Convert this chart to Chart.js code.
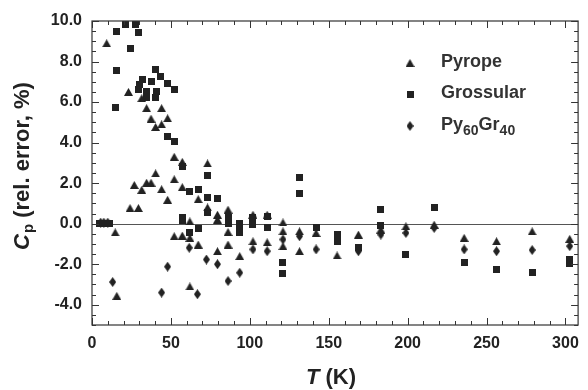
<!DOCTYPE html>
<html>
<head>
<meta charset="utf-8">
<title>Cp relative error vs T</title>
<script src="https://cdn.jsdelivr.net/npm/chart.js@4.4.1/dist/chart.umd.min.js"></script>
<style>
  html, body { margin: 0; padding: 0; background: #fff; }
  #wrap { width: 588px; height: 390px; }
</style>
</head>
<body>
<div id="wrap"><canvas id="cpChart" width="588" height="390"></canvas></div>
<script>
// ---------- data ----------
const xTicks = [0, 50, 100, 150, 200, 250, 300];
const yTicks = [-4, -2, 0, 2, 4, 6, 8, 10];

const pyropeT = [9.3, 14.7, 15.7, 23.1, 24.1, 26.8, 29.4, 31.5, 31.5, 34.6, 34.6, 37.4, 37.4,
  40.3, 40.3, 44.1, 44.1, 44.1, 47.9, 47.9, 52.1, 52.1, 52.1, 57.2, 57.2, 57.2, 62, 62, 62,
  67.3, 67.3, 73.2, 73.2, 79.5, 79.5, 79.5, 86.2, 86.2, 86.2, 93.6, 102, 102, 111, 111,
  121, 121, 121, 131.5, 131.5, 142, 155.3, 168.8, 183, 198.9, 216.8, 235.8, 256.3, 278.9, 302.7];
const pyropeErr = [8.9, -0.43, -3.56, 6.5, 0.77, 1.91, 0.77, 6.19, 1.67, 5.7, 2.02, 5.18, 2.02,
  4.77, 2.48, 5.7, 4.9, 1.7, 5.2, 1.18, 3.3, 2.19, -0.62, 3.05, 1.8, -0.59, 0.11, -0.7, -3.1,
  1.21, -1.03, 2.97, 0.8, 0.44, 0.2, -1.36, 0.69, -0.41, -1.03, -1.6, 0.44, -0.87, 0.44, -0.92,
  0.06, -0.38, -1.11, -0.38, -1.36, -0.46, -1.57, -0.54, -0.29, -0.13, -0.05, -0.7, -0.87, -0.38, -0.75];

const grossularT = [5, 6.5, 8, 9.5, 11, 15, 15.3, 15.7, 21, 24.5, 27.3, 29.4,
  29.4, 30.4, 31.9, 34.6, 34.6, 37.4, 40, 40.5, 41, 43.7, 47.9, 52.1,
  47.9, 52.1, 57.2, 57.2, 57.2, 62, 62, 67.3, 67.3, 73.2, 73.2, 73.2, 79.5,
  86.2, 86.2, 93.6, 93.6, 93.6, 102, 102, 111, 111, 121, 121, 131.5, 131.5,
  142, 155.3, 155.3, 168.8, 183, 183, 198.9, 216.8, 235.8, 256.3, 278.9, 302.7, 302.7];
const grossularErr = [0, 0, 0, 0, 0, 5.75, 7.55, 9.5, 9.85, 8.65, 9.85, 9.42,
  6.6, 6.85, 7.1, 6.52, 6.24, 7.0, 6.24, 7.62, 6.52, 7.25, 6.92, 6.6,
  4.28, 4.03, 2.8, 0.28, 0.16, 1.58, -0.46, 1.67, -0.26, 2.4, 1.3, 0.55, 1.26,
  0.28, 0.03, 0.03, -0.21, -0.46, 0.28, -0.05, 0.36, -0.21, -1.93, -2.45, 2.29, 1.5,
  -0.21, -0.54, -0.87, -1.19, 0.72, -0.1, -1.52, 0.82, -1.93, -2.25, -2.42, -1.76, -1.96];

const pyGrT = [5.5, 7.5, 10, 13.1, 44.1, 47.9, 61.6, 66.8, 72.5, 79.5, 86.2, 93.6, 102, 111,
  121, 131.5, 142, 155.3, 168.8, 183, 198.9, 216.8, 235.8, 256.3, 278.9, 302.7];
const pyGrErr = [0.05, 0.05, 0.05, -2.88, -3.4, -2.12, -1.19, -3.48, -1.77, -2.0, -2.83, -2.42, -1.27, -1.36,
  -0.78, -0.62, -1.27, -0.7, -1.36, -0.54, -0.46, -0.21, -1.27, -1.36, -1.3, -1.11];

// ---------- styling ----------
const INK = '#222';
const FONT = '"Liberation Sans", Arial, Helvetica, sans-serif';

function toPoints(ts, vals) {
  return ts.map((t, i) => ({ x: t, y: vals[i] }));
}

// small filled marker canvases used as point styles
function makeMarker(kind) {
  const sizes = { tri: [9, 8], sq: [7, 7], dia: [7, 10] };
  const [w, h] = sizes[kind];
  const c = document.createElement('canvas');
  c.width = w;
  c.height = h;
  const g = c.getContext('2d');
  g.fillStyle = INK;
  g.beginPath();
  if (kind === 'tri') {
    g.moveTo(w / 2, 0); g.lineTo(w, h); g.lineTo(0, h);
  } else if (kind === 'sq') {
    g.rect(0, 0, w, h);
  } else {
    g.moveTo(w / 2, 0); g.lineTo(w, h / 2); g.lineTo(w / 2, h); g.lineTo(0, h / 2);
  }
  g.closePath();
  g.fill();
  return c;
}

const markers = { tri: makeMarker('tri'), sq: makeMarker('sq'), dia: makeMarker('dia') };

// ---------- decorations: zero line, frame, inward ticks, titles, legend ----------
const decor = {
  id: 'decor',
  beforeDatasetsDraw(chart) {
    const { ctx, chartArea: a, scales: { y } } = chart;
    const y0 = Math.round(y.getPixelForValue(0)) + 0.5;
    ctx.save();
    ctx.strokeStyle = '#555';
    ctx.lineWidth = 1;
    ctx.beginPath();
    ctx.moveTo(a.left, y0);
    ctx.lineTo(a.right, y0);
    ctx.stroke();
    ctx.restore();
  },
  afterDraw(chart) {
    const { ctx, chartArea: a, scales: { x, y } } = chart;
    ctx.save();
    ctx.strokeStyle = '#333';
    ctx.lineWidth = 1.2;
    ctx.strokeRect(a.left, a.top, a.right - a.left, a.bottom - a.top);

    ctx.lineWidth = 1;
    ctx.beginPath();
    for (let t = 0; t <= x.max; t += 10) {
      const px = Math.round(x.getPixelForValue(t)) + 0.5;
      const len = t % 50 === 0 ? 7 : 4;
      ctx.moveTo(px, a.bottom); ctx.lineTo(px, a.bottom - len);
      ctx.moveTo(px, a.top); ctx.lineTo(px, a.top + len);
    }
    for (let v = y.min; v <= y.max + 1e-9; v += 0.5) {
      const py = Math.round(y.getPixelForValue(v)) + 0.5;
      const len = Math.abs(v % 2) < 1e-9 ? 7 : 4;
      ctx.moveTo(a.left, py); ctx.lineTo(a.left + len, py);
      ctx.moveTo(a.right, py); ctx.lineTo(a.right - len, py);
    }
    ctx.stroke();

    // axis titles
    ctx.fillStyle = INK;
    ctx.textBaseline = 'middle';
    const big = 'bold 22px ' + FONT;
    const bigIt = 'italic bold 22px ' + FONT;
    const sub = 'bold 15px ' + FONT;

    // x title: T (K)
    ctx.font = bigIt;
    const wT = ctx.measureText('T').width;
    ctx.font = big;
    const wK = ctx.measureText(' (K)').width;
    let sx = 331 - (wT + wK) / 2;
    ctx.textAlign = 'left';
    ctx.font = bigIt; ctx.fillText('T', sx, 378);
    ctx.font = big; ctx.fillText(' (K)', sx + wT, 378);

    // y title: Cp (rel. error, %)
    ctx.save();
    ctx.translate(23, 166);
    ctx.rotate(-Math.PI / 2);
    ctx.font = bigIt;
    const wC = ctx.measureText('C').width;
    ctx.font = sub;
    const wp = ctx.measureText('p').width;
    ctx.font = big;
    const rest = ' (rel. error, %)';
    const wr = ctx.measureText(rest).width;
    let tx = -(wC + wp + 1 + wr) / 2;
    ctx.font = bigIt; ctx.fillText('C', tx, 0); tx += wC + 1;
    ctx.font = sub; ctx.fillText('p', tx, 6); tx += wp;
    ctx.font = big; ctx.fillText(rest, tx, 0);
    ctx.restore();

    // legend
    const rows = [
      { m: markers.tri, y: 62, parts: [['Pyrope', 0]] },
      { m: markers.sq, y: 93, parts: [['Grossular', 0]] },
      { m: markers.dia, y: 125, parts: [['Py', 0], ['60', 1], ['Gr', 0], ['40', 1]] }
    ];
    ctx.fillStyle = '#333';
    rows.forEach(r => {
      ctx.drawImage(r.m, 410 - r.m.width / 2, r.y + 1 - r.m.height / 2);
      let lx = 441;
      r.parts.forEach(([s, isSub]) => {
        ctx.font = isSub ? 'bold 14px ' + FONT : 'bold 18px ' + FONT;
        ctx.fillText(s, lx, r.y + (isSub ? 6 : 0));
        lx += ctx.measureText(s).width;
      });
    });
    ctx.restore();
  }
};

const tickFont = { family: FONT, size: 16, weight: 'bold' };

new Chart(document.getElementById('cpChart'), {
  type: 'scatter',
  data: {
    datasets: [
      { label: 'Pyrope', data: toPoints(pyropeT, pyropeErr), pointStyle: markers.tri, clip: false },
      { label: 'Grossular', data: toPoints(grossularT, grossularErr), pointStyle: markers.sq, clip: false },
      { label: 'Py60Gr40', data: toPoints(pyGrT, pyGrErr), pointStyle: markers.dia, clip: false }
    ]
  },
  options: {
    responsive: false,
    animation: false,
    devicePixelRatio: 1,
    layout: { padding: { top: 21, right: 7, left: 0, bottom: 0 } },
    plugins: { legend: { display: false }, tooltip: { enabled: false } },
    scales: {
      x: {
        type: 'linear',
        min: 0,
        max: 308,
        afterBuildTicks: s => { s.ticks = xTicks.map(v => ({ value: v })); },
        afterFit: s => { s.height = 65; },
        ticks: { font: tickFont, color: INK, padding: 9, maxRotation: 0, autoSkip: false, callback: v => String(v) },
        grid: { display: false, drawTicks: false },
        border: { display: false }
      },
      y: {
        min: -5,
        max: 10,
        afterBuildTicks: s => { s.ticks = yTicks.map(v => ({ value: v })); },
        afterFit: s => { s.width = 92; },
        ticks: { font: tickFont, color: INK, padding: 10, autoSkip: false, callback: v => Number(v).toFixed(1) },
        grid: { display: false, drawTicks: false },
        border: { display: false }
      }
    }
  },
  plugins: [decor]
});
</script>
</body>
</html>
